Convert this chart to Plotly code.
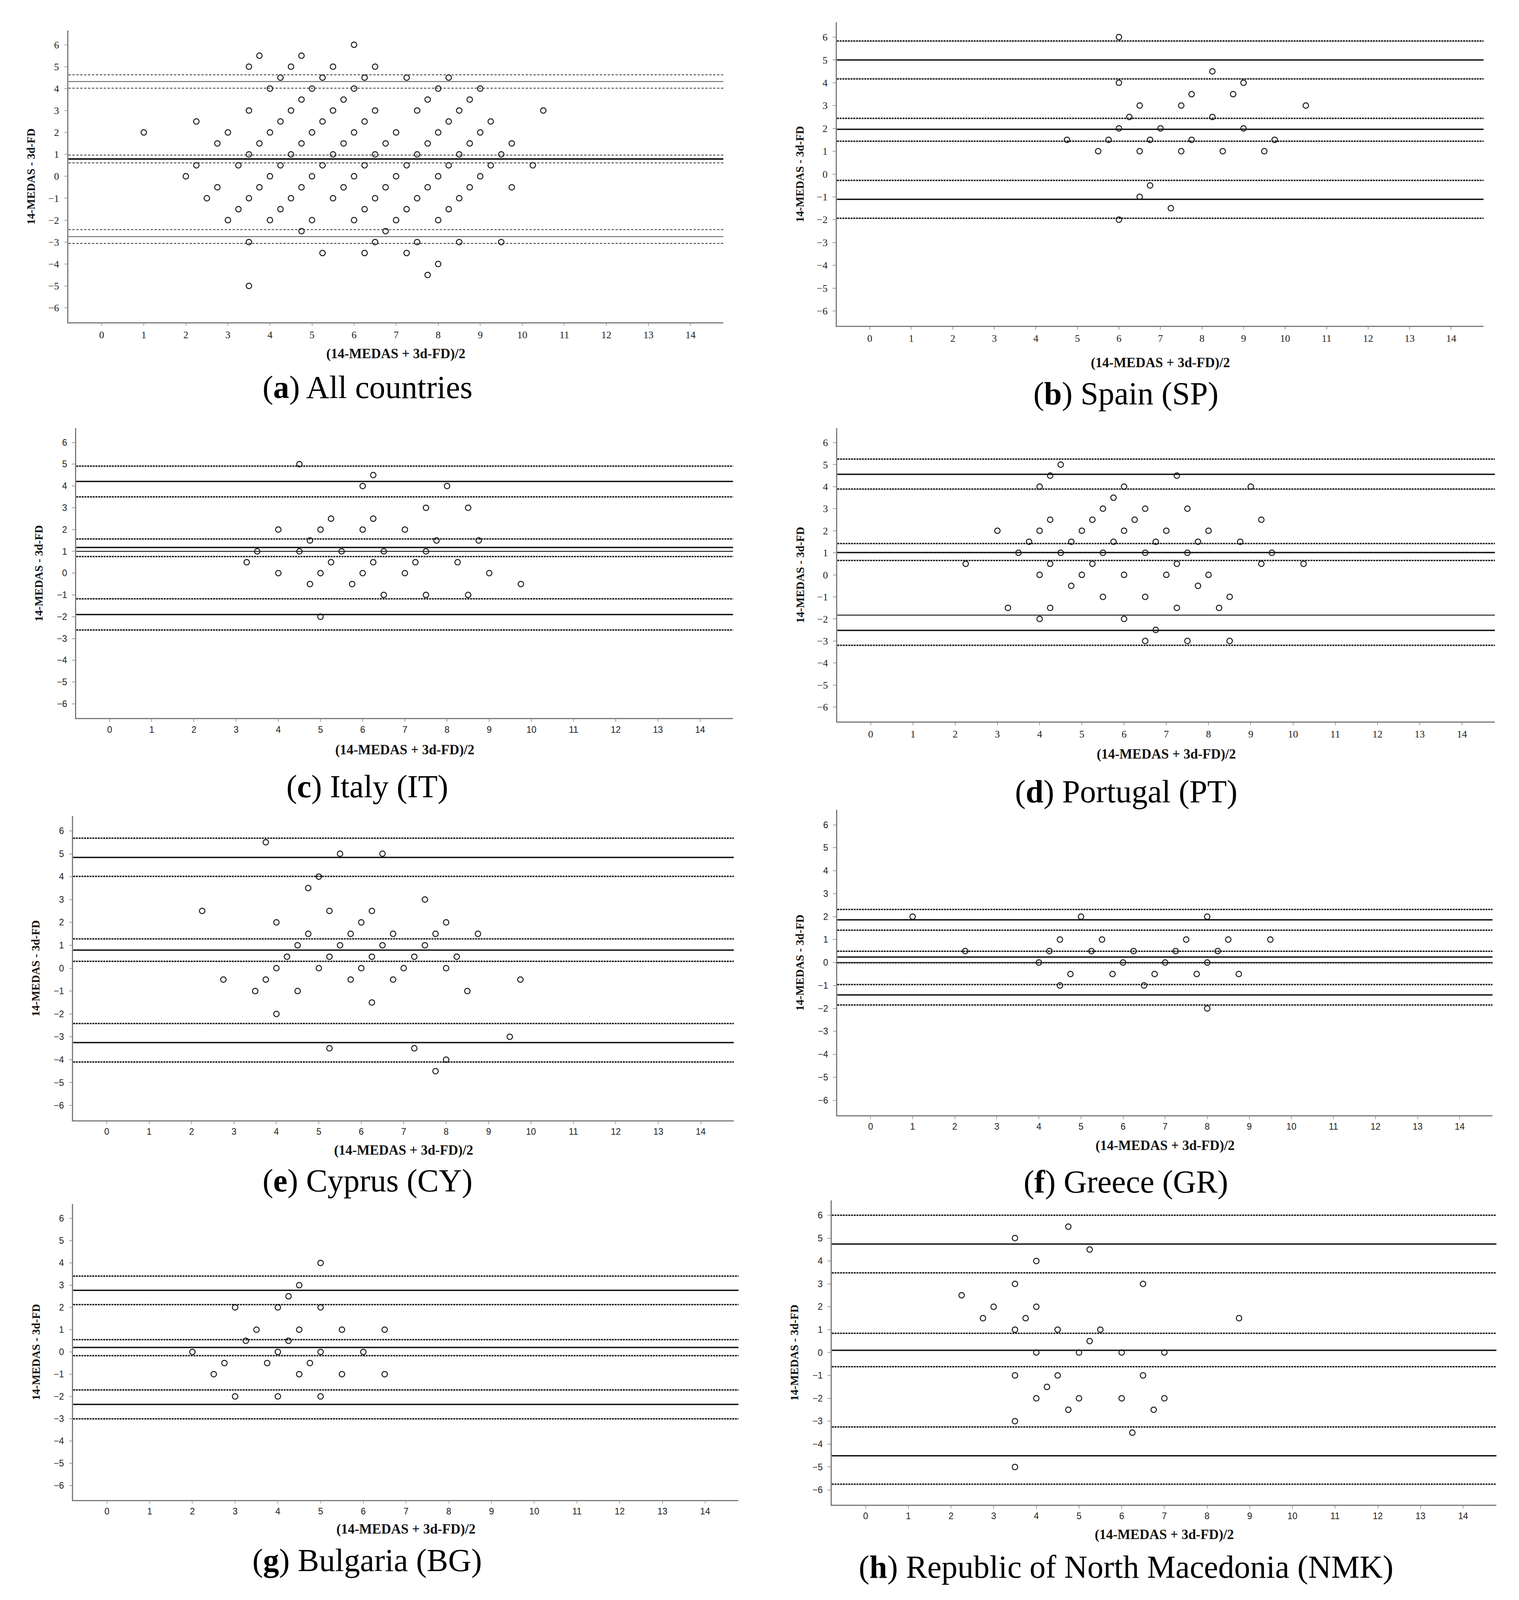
import plotly.graph_objects as go

# ---------------- data ----------------
X_TICKS = list(range(0, 15))
Y_TICKS = list(range(-6, 7))
X_RANGE = [-0.79, 14.78]
Y_RANGE = [-6.65, 6.65]

X_TITLE = "(14-MEDAS + 3d-FD)/2"
Y_TITLE = "14-MEDAS - 3d-FD"

# points: difference value -> list of mean values
A_ROWS = {
    6: [6], 5.5: [3.75, 4.75], 5: [3.5, 4.5, 5.5, 6.5],
    4.5: [4.25, 5.25, 6.25, 7.25, 8.25], 4: [4, 5, 6, 8, 9],
    3.5: [4.75, 5.75, 7.75, 8.75], 3: [3.5, 4.5, 5.5, 6.5, 7.5, 8.5, 10.5],
    2.5: [2.25, 4.25, 5.25, 6.25, 8.25, 9.25], 2: [1, 3, 4, 5, 6, 7, 8, 9],
    1.5: [2.75, 3.75, 4.75, 5.75, 6.75, 7.75, 8.75, 9.75],
    1: [3.5, 4.5, 5.5, 6.5, 7.5, 8.5, 9.5],
    0.5: [2.25, 3.25, 4.25, 5.25, 6.25, 7.25, 8.25, 9.25, 10.25],
    0: [2, 4, 5, 6, 7, 8, 9],
    -0.5: [2.75, 3.75, 4.75, 5.75, 6.75, 7.75, 8.75, 9.75],
    -1: [2.5, 3.5, 4.5, 5.5, 6.5, 7.5, 8.5],
    -1.5: [3.25, 4.25, 6.25, 7.25, 8.25], -2: [3, 4, 5, 6, 7, 8],
    -2.5: [4.75, 6.75], -3: [3.5, 6.5, 7.5, 8.5, 9.5],
    -3.5: [5.25, 6.25, 7.25], -4: [8], -4.5: [7.75], -5: [3.5],
}
A_SOLID = [4.32, 0.79, -2.75]
A_DOTTED = [4.63, 4.02, 0.97, 0.61, -2.43, -3.06]
A_EXTRA = []

B_ROWS = {
    6: [6], 4.5: [8.25], 4: [6, 9], 3.5: [7.75, 8.75], 3: [6.5, 7.5, 10.5],
    2.5: [6.25, 8.25], 2: [6, 7, 9], 1.5: [4.75, 5.75, 6.75, 7.75, 9.75],
    1: [5.5, 6.5, 7.5, 8.5, 9.5], -0.5: [6.75], -1: [6.5], -1.5: [7.25], -2: [6],
}
B_SOLID = [5.0, 1.96, -1.11]
B_DOTTED = [5.83, 4.17, 2.44, 1.44, -0.28, -1.94]
B_EXTRA = []

C_ROWS = {
    5: [4.5], 4.5: [6.25], 4: [6, 8], 3: [7.5, 8.5], 2.5: [5.25, 6.25],
    2: [4, 5, 6, 7], 1.5: [4.75, 7.75, 8.75], 1: [3.5, 4.5, 5.5, 6.5, 7.5],
    0.5: [3.25, 5.25, 6.25, 7.25, 8.25], 0: [4, 5, 6, 7, 9],
    -0.5: [4.75, 5.75, 9.75], -1: [6.5, 7.5, 8.5], -2: [5],
}
C_SOLID = [4.21, 1.18, -1.90]
C_DOTTED = [4.91, 3.50, 1.57, 0.76, -1.18, -2.61]
C_EXTRA = [1.0]

D_ROWS = {
    5: [4.5], 4.5: [4.25, 7.25], 4: [4, 6, 9], 3.5: [5.75], 3: [5.5, 6.5, 7.5],
    2.5: [4.25, 5.25, 6.25, 9.25], 2: [3, 4, 5, 6, 7, 8],
    1.5: [3.75, 4.75, 5.75, 6.75, 7.75, 8.75], 1: [3.5, 4.5, 5.5, 6.5, 7.5, 9.5],
    0.5: [2.25, 4.25, 5.25, 7.25, 9.25, 10.25], 0: [4, 5, 6, 7, 8],
    -0.5: [4.75, 7.75], -1: [5.5, 6.5, 8.5], -1.5: [3.25, 4.25, 7.25, 8.25],
    -2: [4, 6], -2.5: [6.75], -3: [6.5, 7.5, 8.5],
}
D_SOLID = [4.56, 1.01, -2.52]
D_DOTTED = [5.25, 3.89, 1.42, 0.65, -3.20]
D_EXTRA = [-1.83]

E_ROWS = {
    5.5: [3.75], 5: [5.5, 6.5], 4: [5], 3.5: [4.75], 3: [7.5],
    2.5: [2.25, 5.25, 6.25], 2: [4, 6, 8], 1.5: [4.75, 5.75, 6.75, 7.75, 8.75],
    1: [4.5, 5.5, 6.5, 7.5], 0.5: [4.25, 5.25, 6.25, 7.25, 8.25],
    0: [4, 5, 6, 7, 8], -0.5: [2.75, 3.75, 5.75, 6.75, 9.75],
    -1: [3.5, 4.5, 8.5], -1.5: [6.25], -2: [4], -3: [9.5],
    -3.5: [5.25, 7.25], -4: [8], -4.5: [7.75],
}
E_SOLID = [4.84, 0.79, -3.25]
E_DOTTED = [5.68, 4.01, 1.28, 0.30, -2.42, -4.10]
E_EXTRA = []

F_ROWS = {
    2: [1, 5, 8], 1: [4.5, 5.5, 7.5, 8.5, 9.5],
    0.5: [2.25, 4.25, 5.25, 6.25, 7.25, 8.25], 0: [4, 6, 7, 8],
    -0.5: [4.75, 5.75, 6.75, 7.75, 8.75], -1: [4.5, 6.5], -2: [8],
}
F_SOLID = [1.86, 0.24, -1.41]
F_DOTTED = [2.31, 1.41, 0.49, -0.01, -0.96, -1.85]
F_EXTRA = [0.0]

G_ROWS = {
    4: [5], 3: [4.5], 2.5: [4.25], 2: [3, 4, 5], 1: [3.5, 4.5, 5.5, 6.5],
    0.5: [3.25, 4.25], 0: [2, 4, 5, 6], -0.5: [2.75, 3.75, 4.75],
    -1: [2.5, 4.5, 5.5, 6.5], -2: [3, 4, 5],
}
G_SOLID = [2.77, 0.20, -2.36]
G_DOTTED = [3.41, 2.13, 0.55, -0.17, -1.71, -3.01]
G_EXTRA = []

H_ROWS = {
    5.5: [4.75], 5: [3.5], 4.5: [5.25], 4: [4], 3: [3.5, 6.5], 2.5: [2.25],
    2: [3, 4], 1.5: [2.75, 3.75, 8.75], 1: [3.5, 4.5, 5.5], 0.5: [5.25],
    0: [4, 5, 6, 7], -1: [3.5, 4.5, 6.5], -1.5: [4.25], -2: [4, 5, 6, 7],
    -2.5: [4.75, 6.75], -3: [3.5], -3.5: [6.25], -5: [3.5],
}
H_SOLID = [4.74, 0.10, -4.51]
H_DOTTED = [6.0, 3.48, 0.84, -0.62, -3.25, -5.75]
H_EXTRA = []

CAPTIONS = [
    ("a", "All countries"), ("b", "Spain (SP)"), ("c", "Italy (IT)"),
    ("d", "Portugal (PT)"), ("e", "Cyprus (CY)"), ("f", "Greece (GR)"),
    ("g", "Bulgaria (BG)"), ("h", "Republic of North Macedonia (NMK)"),
]

# ---------------- layout (reference pixels, converted to page fractions) ----------------
W, H = 3888, 5241
# left, right, top, bottom of each plot area; x-title offset; caption y
RECTS = [
    (168, 1851, 90, 1049, 104, 1264),
    (2143, 3805, 63, 1061, 122, 1284),
    (188, 1876, 1398, 2351, 104, 2576),
    (2144, 3834, 1398, 2362, 108, 2593),
    (180, 1878, 2673, 3674, 98, 3872),
    (2144, 3828, 2653, 3657, 100, 3876),
    (180, 1890, 3949, 4922, 96, 5121),
    (2130, 3838, 3937, 4938, 98, 5143),
]
CAPTION_X = [936, 2886]
SERIF_TICKS = [True, True, False, True, False, False, False, False]

PANELS = [
    (A_ROWS, A_SOLID, A_DOTTED, A_EXTRA),
    (B_ROWS, B_SOLID, B_DOTTED, B_EXTRA),
    (C_ROWS, C_SOLID, C_DOTTED, C_EXTRA),
    (D_ROWS, D_SOLID, D_DOTTED, D_EXTRA),
    (E_ROWS, E_SOLID, E_DOTTED, E_EXTRA),
    (F_ROWS, F_SOLID, F_DOTTED, F_EXTRA),
    (G_ROWS, G_SOLID, G_DOTTED, G_EXTRA),
    (H_ROWS, H_SOLID, H_DOTTED, H_EXTRA),
]

fig = go.Figure()
shapes = []
annotations = []
layout_axes = {}

for i, ((rows, solid, dotted, extra), rect, serif) in enumerate(zip(PANELS, RECTS, SERIF_TICKS)):
    n = i + 1
    xa = "x" if n == 1 else f"x{n}"
    ya = "y" if n == 1 else f"y{n}"
    l, r, t, b, xt_off, cap_y = rect

    xs, ys = [], []
    for yv, xlist in rows.items():
        for xv in xlist:
            xs.append(xv)
            ys.append(yv)

    fig.add_trace(go.Scatter(
        x=xs, y=ys, mode="markers", xaxis=xa, yaxis=ya, showlegend=False,
        marker=dict(symbol="circle-open", size=14, color="#1c1c1c",
                    line=dict(width=2.5, color="#1c1c1c")),
        hoverinfo="skip",
    ))

    thin = (n == 1)
    for k, v in enumerate(solid):
        if thin:
            w = 4 if k == 1 else 2
            c = "#111111" if k == 1 else "#555555"
        else:
            w, c = 3.5, "#111111"
        shapes.append(dict(type="line", xref=f"{xa} domain", x0=0, x1=1,
                           yref=ya, y0=v, y1=v, layer="below",
                           line=dict(color=c, width=w)))
    for v in dotted:
        if thin:
            line = dict(color="#333333", width=2, dash="6px,4px")
        else:
            line = dict(color="#111111", width=3.5, dash="5px,2px")
        shapes.append(dict(type="line", xref=f"{xa} domain", x0=0, x1=1,
                           yref=ya, y0=v, y1=v, layer="below", line=line))
    for v in extra:
        shapes.append(dict(type="line", xref=f"{xa} domain", x0=0, x1=1,
                           yref=ya, y0=v, y1=v, layer="below",
                           line=dict(color="#222222", width=2.5)))

    tfont = dict(family="Liberation Serif" if serif else "Liberation Sans Narrow, Liberation Sans",
                 size=26 if serif else 23, color="#222222")
    axis_common = dict(showgrid=False, zeroline=False, showline=True,
                       linecolor="#7a7a7a", linewidth=2.5, ticks="outside",
                       tickwidth=2, tickcolor="#a0a0a0",
                       tickfont=tfont, fixedrange=True)
    layout_axes[f"xaxis{n}"] = dict(
        domain=[l / W, r / W], range=X_RANGE, tickvals=X_TICKS,
        anchor=ya, ticklen=7, ticklabelstandoff=0, **axis_common)
    layout_axes[f"yaxis{n}"] = dict(
        domain=[1 - b / H, 1 - t / H], range=Y_RANGE, tickvals=Y_TICKS,
        anchor=xa, ticklen=8, ticklabelstandoff=8, **axis_common)

    # axis titles
    annotations.append(dict(
        text=f"<b>{Y_TITLE}</b>", xref="paper", yref="paper",
        x=(l - 96) / W, y=1 - (t + b) / 2 / H, textangle=-90, showarrow=False,
        xanchor="center", yanchor="middle",
        font=dict(family="Liberation Serif", size=29, color="#111111")))
    annotations.append(dict(
        text=f"<b>{X_TITLE}</b>", xref="paper", yref="paper",
        x=(l + r) / 2 / W, y=1 - (b + xt_off) / H, showarrow=False,
        xanchor="center", yanchor="middle",
        font=dict(family="Liberation Serif", size=35, color="#111111")))
    # caption
    letter, name = CAPTIONS[i]
    annotations.append(dict(
        text=f"(<b>{letter}</b>) {name}", xref="paper", yref="paper",
        x=CAPTION_X[i % 2] / W, y=1 - cap_y / H, showarrow=False,
        xanchor="center", yanchor="middle",
        font=dict(family="Liberation Serif", size=82, color="#000000")))

fig.update_layout(
    autosize=True, margin=dict(l=0, r=0, t=0, b=0),
    paper_bgcolor="white", plot_bgcolor="white",
    shapes=shapes, annotations=annotations, showlegend=False,
    **layout_axes,
)

# the figure fills the browser window, positions are page fractions
fig.write_html("out.html",
               default_width="calc(100vw - 16px)",
               default_height="calc(100vh - 16px)")
